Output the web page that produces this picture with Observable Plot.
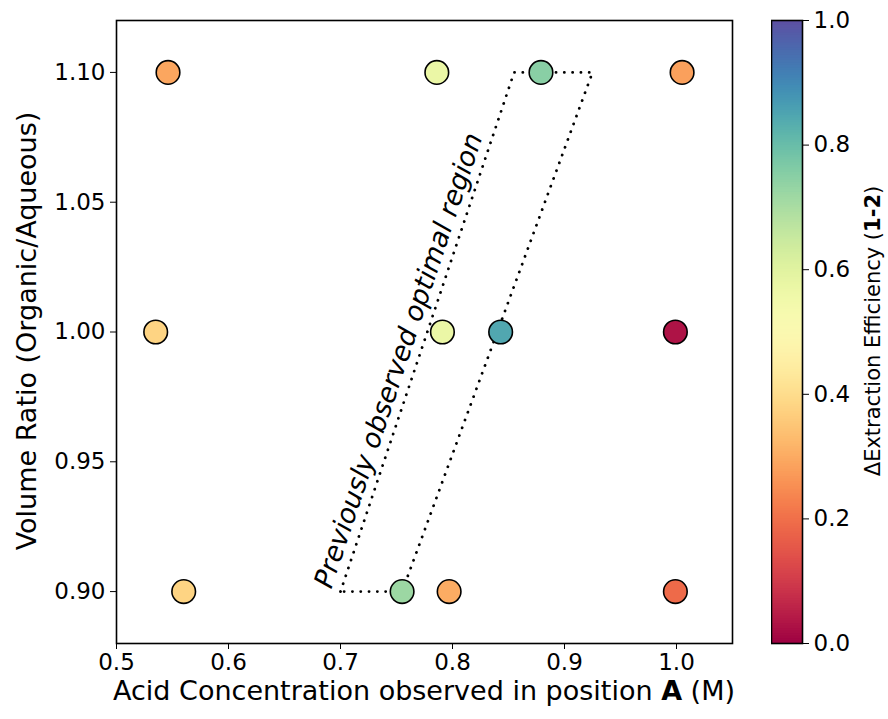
<!DOCTYPE html>
<html><head><meta charset="utf-8">
<script src="https://cdn.jsdelivr.net/npm/d3@7"></script>
<script src="https://cdn.jsdelivr.net/npm/@observablehq/plot@0.6"></script>
<style>
body{margin:0;background:#fff}
#chart{position:relative;width:888px;height:719px;font-family:"DejaVu Sans"}
#chart svg{position:absolute;top:0}
</style>
</head><body><div id="chart"></div>
<script>
// Data
const acidConc = [0.546, 0.786, 0.879, 1.005, 0.535, 0.791, 0.843, 0.999, 0.560, 0.755, 0.797, 0.999];
const volRatio = [1.10, 1.10, 1.10, 1.10, 1.00, 1.00, 1.00, 1.00, 0.90, 0.90, 0.90, 0.90];
const deltaEff = [0.29, 0.57, 0.75, 0.28, 0.38, 0.57, 0.845, 0.03, 0.38, 0.72, 0.30, 0.19];
const regionX = [0.700, 0.855, 0.925, 0.755, 0.700];
const regionY = [0.90, 1.10, 1.10, 0.90, 0.90];
const xTicks = [0.5, 0.6, 0.7, 0.8, 0.9, 1.0];
const yTicks = [0.90, 0.95, 1.00, 1.05, 1.10];
const cbTicks = [0.0, 0.2, 0.4, 0.6, 0.8, 1.0];
const annotation = {x: 0.752, y: 0.989, text: "Previously observed optimal region"};

const points = acidConc.map((x, i) => ({x, y: volRatio[i], v: deltaEff[i]}));
const region = regionX.map((x, i) => ({x, y: regionY[i]}));

const font = "DejaVu Sans";
const tickFont = 23;
const container = document.getElementById("chart");

const main = Plot.plot({
  width: 888, height: 719,
  marginLeft: 116, marginRight: 156, marginTop: 20, marginBottom: 76,
  style: {fontFamily: font, fontSize: tickFont + "px", color: "black", background: "transparent"},
  x: {domain: [0.5, 1.05], label: null},
  y: {domain: [0.88, 1.12], label: null},
  color: {type: "linear", scheme: "spectral", domain: [0, 1]},
  marks: [
    Plot.line(region, {x: "x", y: "y", stroke: "black", strokeWidth: 2.8, strokeDasharray: "0.1,8.2", strokeLinecap: "round"}),
    Plot.text([annotation], {x: "x", y: "y", text: "text", rotate: -71.5, fontStyle: "italic", fontSize: 27, fill: "black"}),
    Plot.dot(points, {x: "x", y: "y", fill: "v", r: 11.8, stroke: "black", strokeWidth: 1.6}),
    Plot.frame({stroke: "black", strokeWidth: 1.6}),
    Plot.axisX({ticks: xTicks, tickFormat: ".1f", tickSize: 6, tickPadding: 4, fontSize: tickFont, label: null}),
    Plot.axisY({ticks: yTicks, tickFormat: ".2f", tickSize: 6, tickPadding: 5, fontSize: tickFont, label: null})
  ]
});
container.appendChild(main);

const ms = d3.select(main);
ms.append("text")
  .attr("x", 424).attr("y", 691).attr("dy", "0.35em")
  .attr("text-anchor", "middle")
  .attr("font-family", font).attr("font-size", 27).attr("fill", "black")
  .call(t => {
    t.append("tspan").text("Acid Concentration observed in position ");
    t.append("tspan").attr("font-weight", "bold").text("A");
    t.append("tspan").text(" (M)");
  });
ms.append("text")
  .attr("transform", "translate(27,331) rotate(-90)")
  .attr("dy", "0.35em")
  .attr("text-anchor", "middle")
  .attr("font-family", font).attr("font-size", 27).attr("fill", "black")
  .text("Volume Ratio (Organic/Aqueous)");

// Colorbar
const step = 0.004;
const slices = d3.range(0, 1, step);
const cb = Plot.plot({
  width: 117, height: 719,
  marginLeft: 0, marginRight: 86, marginTop: 20, marginBottom: 76,
  style: {fontFamily: font, fontSize: tickFont + "px", color: "black", background: "transparent"},
  x: {domain: [0, 1], axis: null},
  y: {domain: [0, 1], label: null},
  color: {type: "linear", scheme: "spectral", domain: [0, 1]},
  marks: [
    Plot.rect(slices, {x1: () => 0, x2: () => 1, y1: d => d, y2: d => Math.min(1, d + step * 1.5), fill: d => d + step / 2, inset: 0}),
    Plot.frame({stroke: "black", strokeWidth: 1.6}),
    Plot.axisY({anchor: "right", ticks: cbTicks, tickFormat: ".1f", tickSize: 6, tickPadding: 5, fontSize: tickFont, label: null})
  ]
});
cb.style.left = "771px";
container.appendChild(cb);

d3.select(cb).append("text")
  .attr("transform", "translate(102,331) rotate(-90)")
  .attr("dy", "0.35em")
  .attr("text-anchor", "middle")
  .attr("font-family", font).attr("font-size", 21).attr("fill", "black")
  .call(t => {
    t.append("tspan").text("ΔExtraction Efficiency (");
    t.append("tspan").attr("font-weight", "bold").text("1-2");
    t.append("tspan").text(")");
  });
</script>
</body></html>
